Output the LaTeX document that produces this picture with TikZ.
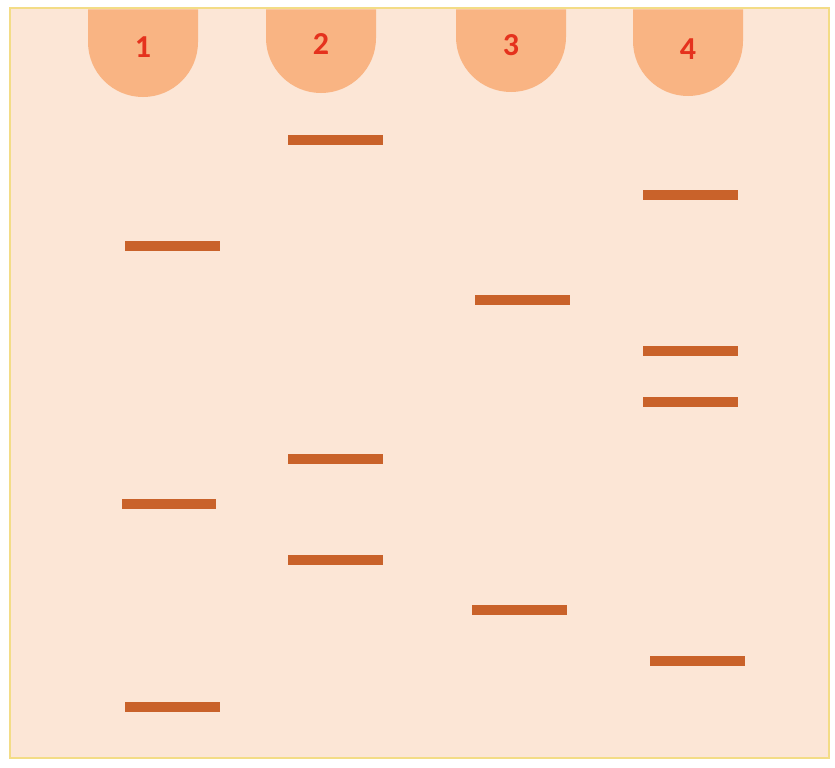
\documentclass[tikz,border=0pt]{standalone}
\usepackage{fontspec}
\setmainfont{Carlito}
\definecolor{gel}{HTML}{FCE6D6}
\definecolor{gelborder}{HTML}{F3DC86}
\definecolor{well}{HTML}{F9B483}
\definecolor{band}{HTML}{C9622A}
\definecolor{lbl}{HTML}{E5321D}
\tikzset{
  wellshape/.style={fill=well,draw=none},
  lanelabel/.style={text=lbl,font=\bfseries\fontsize{32}{36}\selectfont,inner sep=0pt},
  bandshape/.style={fill=band,draw=none}
}
\begin{document}
\begin{tikzpicture}[x=1pt,y=-1pt]
\useasboundingbox (0,0) rectangle (835,768);
\fill[white] (0,0) rectangle (835,768);
\draw[gelborder,line width=2.5pt,fill=gel] (10,8) rectangle (829,758);
% wells
\foreach \cx/\b/\n/\ly in {143/97/1/47,321/93/2/44,511/92/3/45,688/96/4/49}{
  \fill[wellshape] (\cx-55,9.5) -- (\cx-55,\b-55) arc[start angle=180,end angle=0,radius=55] -- (\cx+55,9.5) -- cycle;
  \node[lanelabel] (lab\n) at (\cx,\ly) {\n};
}
% bands
\foreach \xa/\xb/\yc in {125/220/246,122/216/504,125/220/707,
  288/383/140,288/383/459,288/383/560,
  475/570/300,472/567/610,
  643/738/195,643/738/351,643/738/402,650/745/661}{
  \fill[bandshape] (\xa,\yc-5) rectangle (\xb,\yc+5);
}
\end{tikzpicture}
\end{document}
